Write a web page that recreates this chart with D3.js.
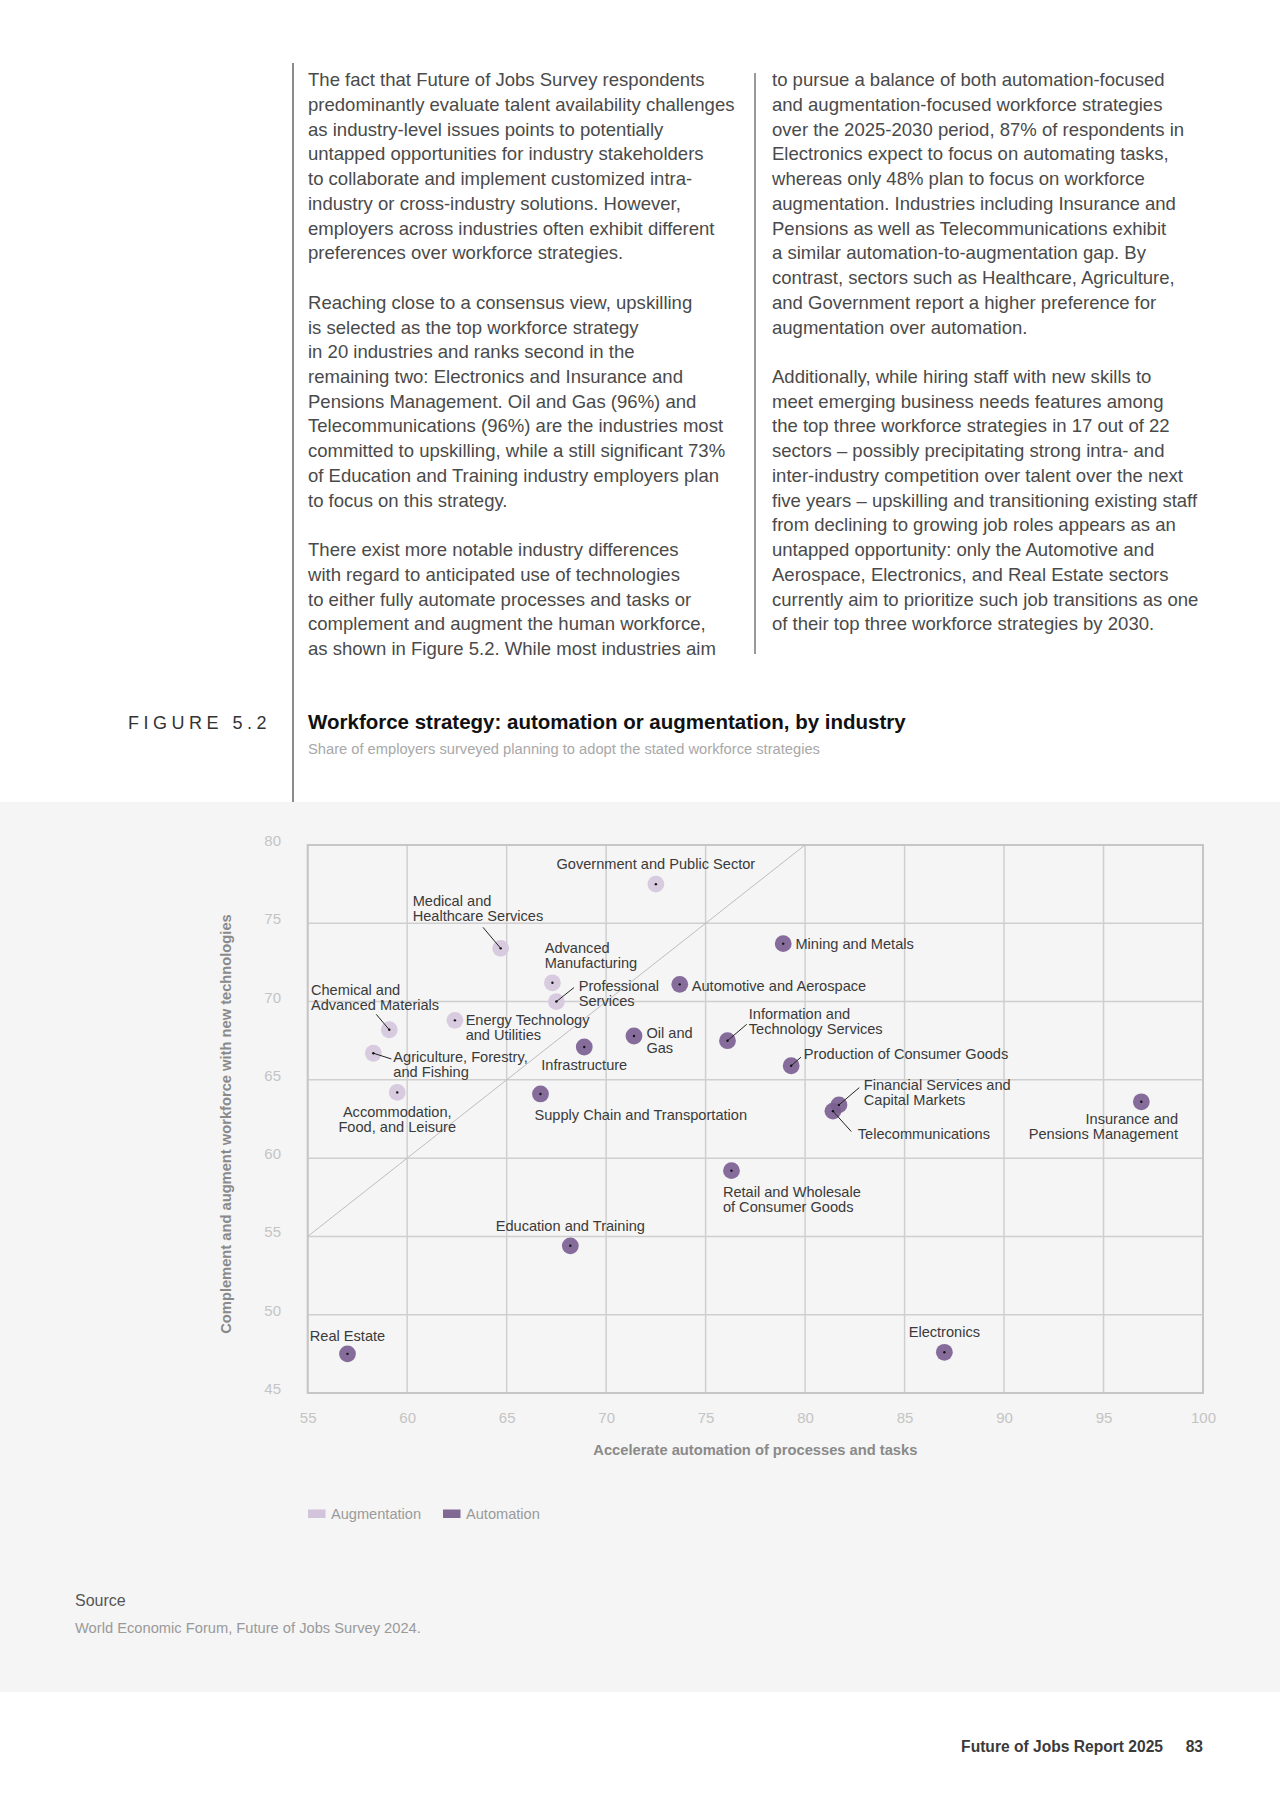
<!DOCTYPE html>
<html>
<head>
<meta charset="utf-8">
<script src="https://cdn.jsdelivr.net/npm/d3@7"></script>
<style>
  html, body { margin: 0; padding: 0; background: #ffffff; }
  svg { display: block; }
  text { font-family: "Liberation Sans", Arial, Helvetica, sans-serif; }
</style>
</head>
<body>
<svg id="page" width="1280" height="1809"></svg>
<script>
// ---------------- DATA ----------------
const industries = [
  "Government and Public Sector",
  "Medical and Healthcare Services",
  "Advanced Manufacturing",
  "Professional Services",
  "Chemical and Advanced Materials",
  "Energy Technology and Utilities",
  "Agriculture, Forestry, and Fishing",
  "Accommodation, Food, and Leisure",
  "Automotive and Aerospace",
  "Infrastructure",
  "Oil and Gas",
  "Supply Chain and Transportation",
  "Mining and Metals",
  "Information and Technology Services",
  "Production of Consumer Goods",
  "Financial Services and Capital Markets",
  "Telecommunications",
  "Insurance and Pensions Management",
  "Retail and Wholesale of Consumer Goods",
  "Electronics",
  "Education and Training",
  "Real Estate"
];
// Accelerate automation of processes and tasks (%)
const automation = [72.5, 64.7, 67.3, 67.5, 59.1, 62.4, 58.3, 59.5, 73.7, 68.9, 71.4, 66.7,
                    78.9, 76.1, 79.3, 81.7, 81.4, 96.9, 76.3, 87.0, 68.2, 57.0];
// Complement and augment workforce with new technologies (%)
const augmentation = [77.5, 73.4, 71.2, 70.0, 68.2, 68.8, 66.7, 64.2, 71.1, 67.1, 67.8, 64.1,
                      73.7, 67.5, 65.9, 63.4, 63.0, 63.6, 59.2, 47.6, 54.4, 47.5];
// Which focus dominates (colour group)
const focus = ["Augmentation","Augmentation","Augmentation","Augmentation","Augmentation","Augmentation",
               "Augmentation","Augmentation","Automation","Automation","Automation","Automation",
               "Automation","Automation","Automation","Automation","Automation","Automation",
               "Automation","Automation","Automation","Automation"];
const seriesNames = ["Augmentation", "Automation"];
const xTicks = [55, 60, 65, 70, 75, 80, 85, 90, 95, 100];
const yTicks = [45, 50, 55, 60, 65, 70, 75, 80];

// label text lines (as printed in the chart)
const labelLines = [
  ["Government and Public Sector"],
  ["Medical and", "Healthcare Services"],
  ["Advanced", "Manufacturing"],
  ["Professional", "Services"],
  ["Chemical and", "Advanced Materials"],
  ["Energy Technology", "and Utilities"],
  ["Agriculture, Forestry,", "and Fishing"],
  ["Accommodation,", "Food, and Leisure"],
  ["Automotive and Aerospace"],
  ["Infrastructure"],
  ["Oil and", "Gas"],
  ["Supply Chain and Transportation"],
  ["Mining and Metals"],
  ["Information and", "Technology Services"],
  ["Production of Consumer Goods"],
  ["Financial Services and", "Capital Markets"],
  ["Telecommunications"],
  ["Insurance and", "Pensions Management"],
  ["Retail and Wholesale", "of Consumer Goods"],
  ["Electronics"],
  ["Education and Training"],
  ["Real Estate"]
];

// ---------------- LAYOUT (label placement relative to the point) ----------------
// [anchor, dx, dy(first line centre), leader start offset or null]
const labelLayout = [
  ["middle", 0, -20, null],
  ["start", -88, -47.5, [-17.7, -21]],
  ["start", -7.7, -35, null],
  ["start", 22.3, -16, [17.6, -14]],
  ["start", -78.3, -40, [-13, -15.4]],
  ["start", 10.7, 0, null],
  ["start", 20, 3.4, [18, 5.7]],
  ["middle", 0, 19.4, null],
  ["start", 12, 1.6, null],
  ["middle", 0, 18, null],
  ["start", 12.4, -2.6, null],
  ["start", -6, 21.4, null],
  ["start", 12.2, 0, null],
  ["start", 21.3, -26.4, [19.2, -16.4]],
  ["start", 12.7, -12, [9.8, -8.6]],
  ["start", 24.9, -20, [20.4, -17.3]],
  ["start", 24.8, 23, [18.3, 20.3]],
  ["end", 36.7, 17.7, null],
  ["start", -8.6, 21, null],
  ["middle", 0, -20, null],
  ["middle", 0, -19.7, null],
  ["middle", 0, -18, null]
];

const colors = { "Augmentation": "#d8cbe0", "Automation": "#7b5f91" };
const legendColors = { "Augmentation": "#d2c4da", "Automation": "#806a93" };

const leftCol = [
  "The fact that Future of Jobs Survey respondents",
  "predominantly evaluate talent availability challenges",
  "as industry-level issues points to potentially",
  "untapped opportunities for industry stakeholders",
  "to collaborate and implement customized intra-",
  "industry or cross-industry solutions. However,",
  "employers across industries often exhibit different",
  "preferences over workforce strategies.",
  "",
  "Reaching close to a consensus view, upskilling",
  "is selected as the top workforce strategy",
  "in 20 industries and ranks second in the",
  "remaining two: Electronics and Insurance and",
  "Pensions Management. Oil and Gas (96%) and",
  "Telecommunications (96%) are the industries most",
  "committed to upskilling, while a still significant 73%",
  "of Education and Training industry employers plan",
  "to focus on this strategy.",
  "",
  "There exist more notable industry differences",
  "with regard to anticipated use of technologies",
  "to either fully automate processes and tasks or",
  "complement and augment the human workforce,",
  "as shown in Figure 5.2. While most industries aim"
];
const rightCol = [
  "to pursue a balance of both automation-focused",
  "and augmentation-focused workforce strategies",
  "over the 2025-2030 period, 87% of respondents in",
  "Electronics expect to focus on automating tasks,",
  "whereas only 48% plan to focus on workforce",
  "augmentation. Industries including Insurance and",
  "Pensions as well as Telecommunications exhibit",
  "a similar automation-to-augmentation gap. By",
  "contrast, sectors such as Healthcare, Agriculture,",
  "and Government report a higher preference for",
  "augmentation over automation.",
  "",
  "Additionally, while hiring staff with new skills to",
  "meet emerging business needs features among",
  "the top three workforce strategies in 17 out of 22",
  "sectors \u2013 possibly precipitating strong intra- and",
  "inter-industry competition over talent over the next",
  "five years \u2013 upskilling and transitioning existing staff",
  "from declining to growing job roles appears as an",
  "untapped opportunity: only the Automotive and",
  "Aerospace, Electronics, and Real Estate sectors",
  "currently aim to prioritize such job transitions as one",
  "of their top three workforce strategies by 2030."
];

// ---------------- DRAW ----------------
const svg = d3.select("#page");

// body text
const pitch = 24.73, firstBase = 86.2, bodySize = 18.55;
function drawCol(lines, x) {
  svg.append("g").selectAll("text").data(lines).join("text")
    .attr("x", x).attr("y", (d, i) => firstBase + i * pitch)
    .attr("font-size", bodySize).attr("fill", "#4a4a4a")
    .text(d => d);
}
drawCol(leftCol, 308);
drawCol(rightCol, 772);

// column rules
svg.append("line").attr("x1", 293).attr("x2", 293).attr("y1", 63).attr("y2", 802)
  .attr("stroke", "#666").attr("stroke-width", 1.5);
svg.append("line").attr("x1", 755).attr("x2", 755).attr("y1", 73).attr("y2", 654)
  .attr("stroke", "#777").attr("stroke-width", 1.5);

// figure header
svg.append("text").attr("x", 128).attr("y", 728.5).attr("font-size", 18)
  .attr("letter-spacing", 4.5).attr("fill", "#333").text("FIGURE 5.2");
svg.append("text").attr("x", 308).attr("y", 728.8).attr("font-size", 20.5)
  .attr("font-weight", "bold").attr("fill", "#111")
  .text("Workforce strategy: automation or augmentation, by industry");
svg.append("text").attr("x", 308).attr("y", 753.6).attr("font-size", 14.7)
  .attr("fill", "#a8a8a8")
  .text("Share of employers surveyed planning to adopt the stated workforce strategies");

// grey panel
svg.append("rect").attr("x", 0).attr("y", 802).attr("width", 1280).attr("height", 890)
  .attr("fill", "#f5f5f5");

// scales
const x = d3.scaleLinear().domain([55, 100]).range([307.7, 1203]);
const y = d3.scaleLinear().domain([45, 80]).range([1393, 845]);

const plot = svg.append("g");
// gridlines
plot.append("g").selectAll("line").data(xTicks).join("line")
  .attr("x1", d => x(d)).attr("x2", d => x(d)).attr("y1", y(80)).attr("y2", y(45))
  .attr("stroke", "#cfcfcf").attr("stroke-width", 1.5);
plot.append("g").selectAll("line").data(yTicks).join("line")
  .attr("x1", x(55)).attr("x2", x(100)).attr("y1", d => y(d)).attr("y2", d => y(d))
  .attr("stroke", "#cfcfcf").attr("stroke-width", 1.5);
// border
plot.append("rect").attr("x", x(55)).attr("y", y(80))
  .attr("width", x(100) - x(55)).attr("height", y(45) - y(80))
  .attr("fill", "none").attr("stroke", "#c6c6c6").attr("stroke-width", 2);
// diagonal parity line
plot.append("line").attr("x1", x(55)).attr("y1", y(55)).attr("x2", x(80)).attr("y2", y(80))
  .attr("stroke", "#bdbdbd").attr("stroke-width", 1);

// axes (tick labels via d3 axes, domain/ticks hidden)
const xAxis = d3.axisBottom(x).tickValues(xTicks).tickSize(0).tickPadding(0);
const gx = svg.append("g").attr("transform", `translate(0, 1423)`).call(xAxis);
gx.select(".domain").remove();
gx.selectAll("text").attr("font-size", 15).attr("fill", "#c4c4c4")
  .attr("font-family", "Liberation Sans, Arial, sans-serif").attr("dy", 0).attr("y", 0);

const yAxis = d3.axisLeft(y).tickValues(yTicks).tickSize(0).tickPadding(0);
const gy = svg.append("g").attr("transform", `translate(281, 0)`).call(yAxis);
gy.select(".domain").remove();
gy.selectAll("text").attr("font-size", 15).attr("fill", "#c4c4c4")
  .attr("font-family", "Liberation Sans, Arial, sans-serif").attr("dy", 0).attr("x", 0)
  .attr("y", 0.5);

// axis titles
svg.append("text").attr("x", (x(55) + x(100)) / 2).attr("y", 1454.5)
  .attr("text-anchor", "middle").attr("font-size", 14.7).attr("font-weight", "bold")
  .attr("fill", "#8a8a8a").text("Accelerate automation of processes and tasks");
svg.append("text").attr("transform", "translate(230.5,1124) rotate(-90)")
  .attr("text-anchor", "middle").attr("font-size", 14.7).attr("font-weight", "bold")
  .attr("fill", "#8a8a8a").text("Complement and augment workforce with new technologies");

// points
const pts = industries.map((name, i) => ({
  name, ax: automation[i], ay: augmentation[i], focus: focus[i],
  lines: labelLines[i], layout: labelLayout[i]
}));

const gPts = svg.append("g");
gPts.selectAll("circle.bubble").data(pts).join("circle").attr("class", "bubble")
  .attr("cx", d => x(d.ax)).attr("cy", d => y(d.ay)).attr("r", 8.4)
  .attr("fill", d => colors[d.focus])
  .attr("fill-opacity", d => d.focus === "Automation" ? 0.92 : 1);

// leader lines
gPts.selectAll("line.leader").data(pts.filter(d => d.layout[3])).join("line")
  .attr("class", "leader")
  .attr("x1", d => x(d.ax) + d.layout[3][0]).attr("y1", d => y(d.ay) + d.layout[3][1])
  .attr("x2", d => x(d.ax)).attr("y2", d => y(d.ay))
  .attr("stroke", "#222").attr("stroke-width", 1);

// centre dots
gPts.selectAll("circle.dot").data(pts).join("circle").attr("class", "dot")
  .attr("cx", d => x(d.ax)).attr("cy", d => y(d.ay)).attr("r", 1.2)
  .attr("fill", "#111");

// labels
const lab = gPts.selectAll("text.lab").data(pts).join("text").attr("class", "lab")
  .attr("text-anchor", d => d.layout[0])
  .attr("font-size", 14.6).attr("fill", "#3a3a3a");
lab.selectAll("tspan").data(d => d.lines.map((t, k) => ({ t, k, d }))).join("tspan")
  .attr("x", o => x(o.d.ax) + o.d.layout[1])
  .attr("y", o => y(o.d.ay) + o.d.layout[2] + 5 + o.k * 15)
  .text(o => o.t);

// legend
const lg = svg.append("g").selectAll("g").data(seriesNames).join("g")
  .attr("transform", (d, i) => `translate(${i === 0 ? 308 : 443}, 0)`);
lg.append("rect").attr("x", 0).attr("y", 1509.5).attr("width", 17.5).attr("height", 8.5)
  .attr("fill", d => legendColors[d]);
lg.append("text").attr("x", 23).attr("y", 1519).attr("font-size", 14.6)
  .attr("fill", "#9a9a9a").text(d => d);

// source
svg.append("text").attr("x", 75).attr("y", 1605.5).attr("font-size", 16)
  .attr("fill", "#555").text("Source");
svg.append("text").attr("x", 75).attr("y", 1633).attr("font-size", 14.7)
  .attr("fill", "#9a9a9a").text("World Economic Forum, Future of Jobs Survey 2024.");

// footer
svg.append("text").attr("x", 1163).attr("y", 1752).attr("text-anchor", "end")
  .attr("font-size", 15.6).attr("font-weight", "bold")
  .attr("fill", "#3a3a3a").text("Future of Jobs Report 2025");
svg.append("text").attr("x", 1203).attr("y", 1752).attr("text-anchor", "end")
  .attr("font-size", 15.6).attr("font-weight", "bold")
  .attr("fill", "#3a3a3a").text("83");
</script>
</body>
</html>
